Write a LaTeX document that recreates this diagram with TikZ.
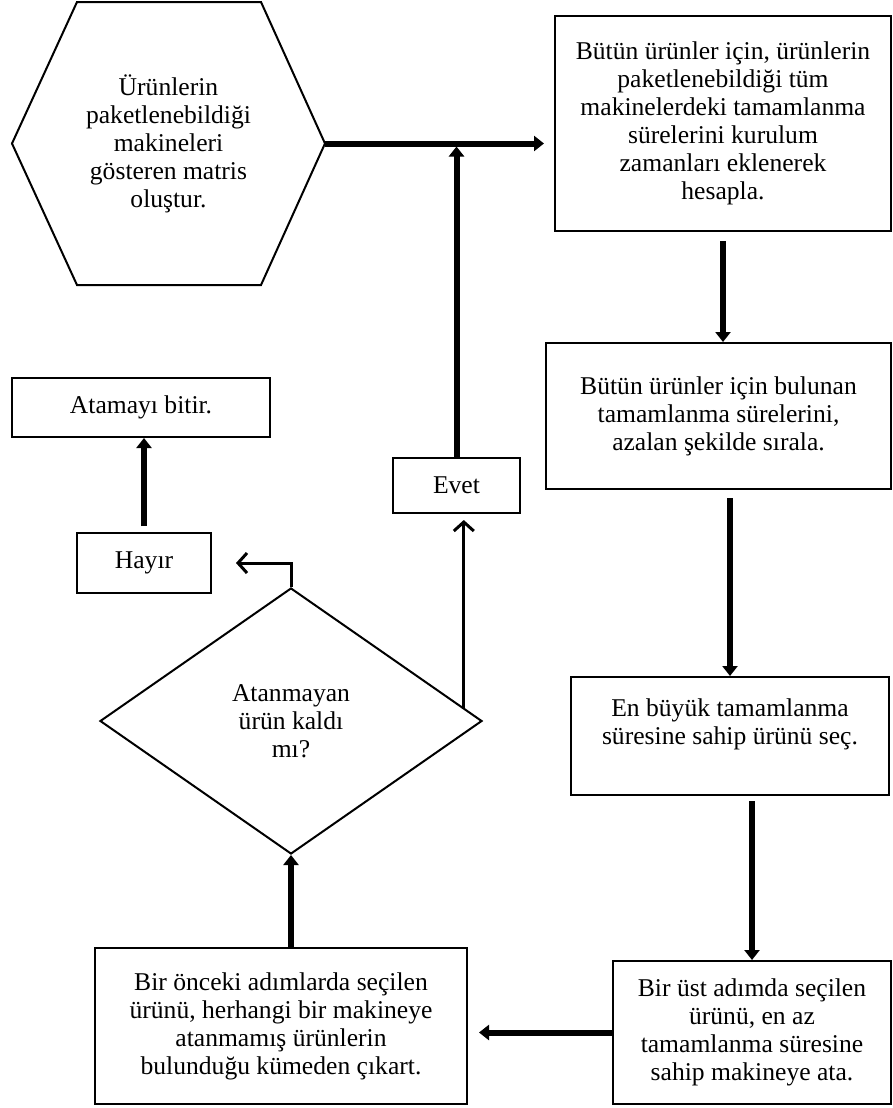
\documentclass[tikz,border=0pt]{standalone}
\usepackage{fontspec}
\setmainfont{Liberation Serif}
\usetikzlibrary{shapes.geometric, arrows.meta, calc}
\tikzstyle{process} = [draw, line width=1pt, align=center, inner sep=0pt, font=\fontsize{12.8pt}{14pt}\selectfont]
\tikzstyle{decision} = [diamond, draw, line width=1pt, align=center, inner sep=0pt, font=\fontsize{12.8pt}{14pt}\selectfont]
\tikzstyle{arrow} = [line width=3pt, -{Triangle[length=5pt,width=7.5pt]}]
\tikzstyle{thinarrow} = [line width=1.5pt, -{Straight Barb[length=4.5pt,width=10pt]}]

\begin{document}
\begin{tikzpicture}[x=0.5pt,y=-0.5pt]
\useasboundingbox (0,0) rectangle (893,1108);

\node[process, draw=none, minimum width=155.5pt, minimum height=140.5pt] (hex) at (168.5,143.5)
 {Ürünlerin\\paketlenebildiği\\makineleri\\gösteren matris\\oluştur.};
\draw[line width=1pt] (hex.west) -- ($(hex.north west)+(65,0)$) -- ($(hex.north east)+(-64,0)$)
 -- (hex.east) -- ($(hex.south east)+(-64,0)$) -- ($(hex.south west)+(65,0)$) -- cycle;

\node[process, minimum width=168pt, minimum height=107.5pt] (hesap) at (723,123.5)
 {Bütün ürünler için, ürünlerin\\paketlenebildiği tüm\\makinelerdeki tamamlanma\\sürelerini kurulum\\zamanları eklenerek\\hesapla.};
\node[process, minimum width=172.5pt, minimum height=73pt] (sirala) at (718.5,416)
 {Bütün ürünler için bulunan\\tamamlanma sürelerini,\\azalan şekilde sırala.};
\node[process, minimum width=159pt, minimum height=59pt] (sec) at (730,736)
 {En büyük tamamlanma\\süresine sahip ürünü seç.\\\mbox{}};
\node[process, minimum width=139pt, minimum height=71.5pt] (ata) at (752,1032.5)
 {Bir üst adımda seçilen\\ürünü, en az\\tamamlanma süresine\\sahip makineye ata.};
\node[process, minimum width=186pt, minimum height=78pt] (cikar) at (281,1026)
 {Bir önceki adımlarda seçilen\\ürünü, herhangi bir makineye\\atanmamış ürünlerin\\bulunduğu kümeden çıkart.};
\node[decision, minimum width=191pt, minimum height=133pt] (kaldi) at (291,721)
 {Atanmayan\\ürün kaldı\\mı?};
\node[process, minimum width=63.5pt, minimum height=27.5pt] (evet) at (456.5,485.5) {Evet};
\node[process, minimum width=67pt, minimum height=30pt] (hayir) at (144,563) {Hayır};
\node[process, minimum width=129pt, minimum height=29.5pt] (bitir) at (141,407.5) {Atamayı bitir.};

\coordinate (kenar) at ($(kaldi.north)!0.9!(kaldi.east)$);

\draw[arrow, shorten >=5pt] (hex.east) -- (hex.east -| hesap.west);
\draw[arrow, shorten <=4.5pt] (hesap.south) -- (hesap.south |- sirala.north);
\draw[arrow, shorten <=4pt] (sec.north |- sirala.south) -- (sec.north);
\draw[arrow, shorten <=2.5pt] (ata.north |- sec.south) -- (ata.north);
\draw[arrow, shorten >=5.5pt] (ata.west) -- (ata.west -| cikar.east);
\draw[arrow] (kaldi.south |- cikar.north) -- (kaldi.south);
\draw[arrow, shorten >=1.5pt] (evet.north) -- (evet.north |- hex.east);
\draw[arrow, shorten <=3pt] (hayir.north) -- (hayir.north |- bitir.south);

\draw[thinarrow, shorten >=3pt] (kenar) -- (kenar |- evet.south);
\draw[thinarrow, shorten >=12pt] (kaldi.north) |- (hayir.east);

\end{tikzpicture}
\end{document}
